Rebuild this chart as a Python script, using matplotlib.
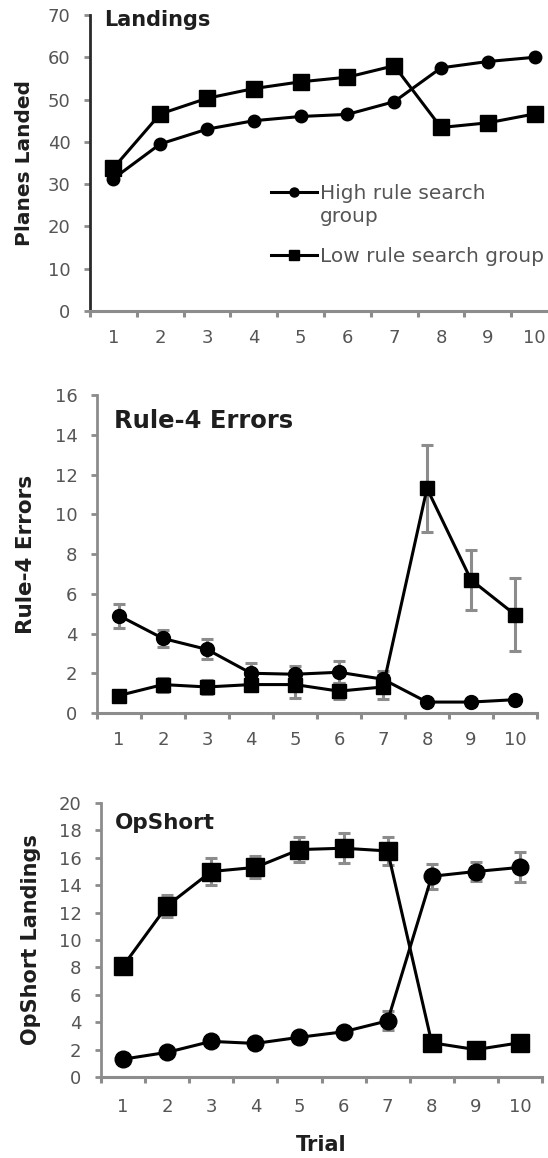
import matplotlib
matplotlib.use("Agg")
import matplotlib.pyplot as plt
from matplotlib.lines import Line2D
import numpy as np

plt.rcParams['font.family'] = ['DejaVu Sans']

trials = [1, 2, 3, 4, 5, 6, 7, 8, 9, 10]
trial_labels = ["1", "2", "3", "4", "5", "6", "7", "8", "9", "10"]

# Landings (planes landed per trial)
landed_high = [31.3, 39.5, 43.0, 45.0, 46.0, 46.5, 49.5, 57.5, 59.0, 60.0]
landed_low = [33.8, 46.6, 50.3, 52.6, 54.2, 55.3, 58.0, 43.4, 44.5, 46.6]

# Rule-4 errors with standard errors
err_high = [4.9, 3.75, 3.2, 2.0, 1.95, 2.05, 1.7, 0.55, 0.55, 0.67]
err_high_se = [0.6, 0.45, 0.5, 0.5, 0.4, 0.55, 0.4, 0.1, 0.1, 0.1]
err_low = [0.88, 1.43, 1.31, 1.43, 1.43, 1.1, 1.31, 11.3, 6.7, 4.95]
err_low_se = [0.1, 0.35, 0.35, 0.3, 0.7, 0.4, 0.6, 2.2, 1.5, 1.85]

# OpShort landings with standard errors
op_high = [1.3, 1.8, 2.6, 2.45, 2.9, 3.3, 4.1, 14.65, 15.0, 15.3]
op_high_se = [0.2, 0.2, 0.2, 0.2, 0.3, 0.3, 0.7, 0.9, 0.7, 1.1]
op_low = [8.1, 12.5, 15.0, 15.3, 16.6, 16.7, 16.5, 2.5, 2.0, 2.5]
op_low_se = [0.6, 0.8, 0.95, 0.8, 0.9, 1.1, 1.0, 0.2, 0.2, 0.2]

W, H = 548, 1158
fig = plt.figure(figsize=(W / 100, H / 100), dpi=100)

GRAY = "#8c8c8c"
TICKC = "#555555"
DARK = "#1e1e1e"
LW = 2.2


def px_axes(left, top, right, bottom):
    return fig.add_axes([left / W, 1 - bottom / H, (right - left) / W, (bottom - top) / H])


def px_to_axes(ax, x, y):
    """Convert a figure pixel position (from the top-left) to axes fraction."""
    x0, y0, w, h = ax.get_position().bounds
    fx, fy = x / W, 1 - y / H
    return (fx - x0) / w, (fy - y0) / h


def style(ax, ymax, ystep, ydark=False, xpad=13):
    ax.set_xlim(0.5, 10.5)
    ax.set_ylim(0, ymax)
    ax.set_yticks(np.arange(0, ymax + 0.1, ystep))
    ax.set_xticks(trials)
    ax.set_xticklabels(trial_labels)
    ax.set_xticks(np.arange(0.5, 10.6, 1.0), minor=True)
    for s in ("top", "right"):
        ax.spines[s].set_visible(False)
    ax.spines["bottom"].set_color(GRAY)
    ax.spines["bottom"].set_linewidth(2.2)
    ax.spines["left"].set_color("#2a2a2a" if ydark else GRAY)
    ax.spines["left"].set_linewidth(2.0)
    ax.tick_params(axis="x", which="major", length=0, pad=xpad,
                   labelsize=13, labelcolor=TICKC)
    ax.tick_params(axis="x", which="minor", length=4, width=2.2, color=GRAY,
                   direction="out")
    ax.tick_params(axis="y", length=4, width=2, color=GRAY, pad=10,
                   labelsize=13, labelcolor=TICKC)


def panel_title(ax, text, x, y_base, size):
    ax.text(*px_to_axes(ax, x, y_base), text, transform=ax.transAxes,
            fontsize=size, fontweight="bold", color=DARK,
            va="baseline", ha="left")


def panel_ylabel(ax, text, x_right, size):
    # the label's anchor sits on its right-hand edge once rotated
    ax.set_ylabel(text, fontsize=size, fontweight="bold", color=DARK)
    ax.yaxis.set_label_coords(px_to_axes(ax, x_right, 0)[0], 0.5)


eb_kw = dict(fmt="none", ecolor=GRAY, elinewidth=2.2, capsize=4.5,
             capthick=2.2, zorder=2)

# Panel 1: Landings
ax1 = px_axes(90, 15, 558, 311)
style(ax1, 70, 10, ydark=True, xpad=13)
ax1.plot(trials, landed_high, color="black", lw=LW, marker="o", ms=9,
         clip_on=False, zorder=3)
ax1.plot(trials, landed_low, color="black", lw=LW, marker="s", ms=11.5,
         clip_on=False, zorder=3)
panel_title(ax1, "Landings", 104, 26, 15)
panel_ylabel(ax1, "Planes Landed", 34, 14.5)

# Legend rows: the two-line label keeps its marker on the first line
leg_a = fig.legend(
    [Line2D([], [], color="black", lw=LW, marker="o", ms=6.5),
     Line2D([], [], color="none")],
    ["High rule search", "group"], loc="upper left",
    bbox_to_anchor=(271 / W, 1 - 184 / H), frameon=False, fontsize=14.5,
    handlelength=2.3, handletextpad=0.15, labelspacing=0.2,
    borderaxespad=0, borderpad=0)
leg_b = fig.legend(
    [Line2D([], [], color="black", lw=LW, marker="s", ms=6.5)],
    ["Low rule search group"], loc="upper left",
    bbox_to_anchor=(271 / W, 1 - 247 / H), frameon=False, fontsize=14.5,
    handlelength=2.3, handletextpad=0.15, borderaxespad=0, borderpad=0)
for lg in (leg_a, leg_b):
    for t in lg.get_texts():
        t.set_color("#555555")

# Panel 2: Rule-4 Errors
ax2 = px_axes(97, 395, 537, 713)
style(ax2, 16, 2, xpad=13)
ax2.errorbar(trials, err_high, yerr=err_high_se, **eb_kw)
ax2.errorbar(trials, err_low, yerr=err_low_se, **eb_kw)
ax2.plot(trials, err_high, color="black", lw=LW, marker="o", ms=10,
         clip_on=False, zorder=3)
ax2.plot(trials, err_low, color="black", lw=LW, marker="s", ms=10,
         clip_on=False, zorder=3)
panel_title(ax2, "Rule-4 Errors", 114, 428, 17.5)
panel_ylabel(ax2, "Rule-4 Errors", 36, 15.5)

# Panel 3: OpShort
ax3 = px_axes(101, 803, 542, 1077)
style(ax3, 20, 2, xpad=15)
ax3.errorbar(trials, op_high, yerr=op_high_se, **eb_kw)
ax3.errorbar(trials, op_low, yerr=op_low_se, **eb_kw)
ax3.plot(trials, op_high, color="black", lw=LW, marker="o", ms=12,
         clip_on=False, zorder=3)
ax3.plot(trials, op_low, color="black", lw=LW, marker="s", ms=13,
         clip_on=False, zorder=3)
panel_title(ax3, "OpShort", 115, 829, 15.5)
panel_ylabel(ax3, "OpShort Landings", 41, 15)
ax3.set_xlabel("Trial", fontsize=15, fontweight="bold", color=DARK,
               labelpad=14)

fig.savefig("out.png", dpi=100)
